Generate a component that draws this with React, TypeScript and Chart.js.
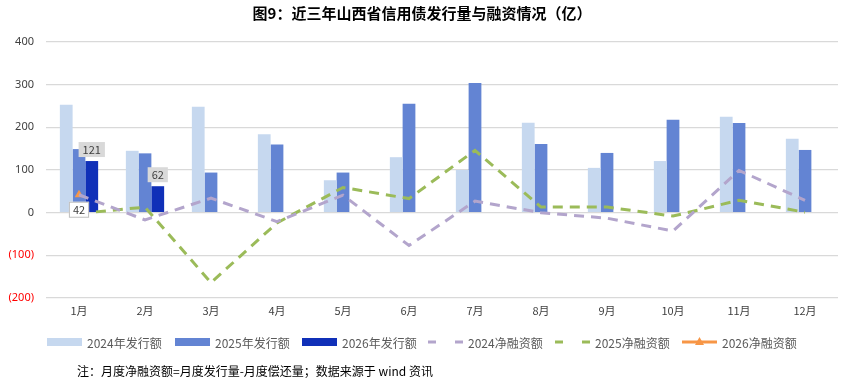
import React, { useEffect, useRef } from "react";
import { Chart, registerables } from "chart.js";

Chart.register(...registerables);

const months = ["1月", "2月", "3月", "4月", "5月", "6月", "7月", "8月", "9月", "10月", "11月", "12月"];
const issue2024 = [253, 145, 248, 184, 76, 130, 100, 211, 105, 121, 225, 173];
const issue2025 = [149, 139, 94, 160, 94, 255, 304, 161, 140, 218, 210, 147];
const issue2026: (number | null)[] = [121, 62, null, null, null, null, null, null, null, null, null, null];
const net2024 = [42, -17, 34, -21, 41, -77, 27, 0, -13, -43, 99, 29];
const net2025 = [-2, 13, -164, -24, 59, 33, 146, 13, 13, -8, 29, 1];
const net2026: (number | null)[] = [42, null, null, null, null, null, null, null, null, null, null, null];
const yTicks = [400, 300, 200, 100, 0, -100, -200];

const TITLE = "图9：近三年山西省信用债发行量与融资情况（亿）";
const NOTE = "注：月度净融资额=月度发行量-月度偿还量；数据来源于 wind 资讯";

const C24 = "#C6D8EF";
const C25 = "#6384D3";
const C26 = "#1030B8";
const CP = "#B3A5CC";
const CG = "#9BBB59";
const CO = "#F79646";
const CJK = '"Noto Sans CJK SC", "Noto Sans", sans-serif';

const legendItems = [
  { label: "2024年发行额", type: "bar", color: C24 },
  { label: "2025年发行额", type: "bar", color: C25 },
  { label: "2026年发行额", type: "bar", color: C26 },
  { label: "2024净融资额", type: "dash", color: CP },
  { label: "2025净融资额", type: "dash", color: CG },
  { label: "2026净融资额", type: "tri", color: CO },
];

const fmt = (v: number) => (v < 0 ? `(${Math.abs(v)})` : `${v}`);

export default function App() {
  const ref = useRef<HTMLCanvasElement>(null);
  useEffect(() => {
    const canvas = ref.current!;
    const extras = {
      id: "extras",
      afterDatasetsDraw(chart: any) {
        const ctx = chart.ctx;
        ctx.save();
        // bar labels for 2026
        const meta = chart.getDatasetMeta(2);
        ctx.font = `11px ${CJK}`;
        ctx.textAlign = "center";
        ctx.textBaseline = "middle";
        meta.data.forEach((el: any, i: number) => {
          const v = issue2026[i];
          if (v == null) return;
          const txt = String(v);
          const w = ctx.measureText(txt).width + 8;
          const h = 15;
          const x = el.x;
          const yb = el.y - 4;
          ctx.fillStyle = "#D9D9D9";
          ctx.fillRect(x - w / 2, yb - h, w, h);
          ctx.fillStyle = "#404040";
          ctx.fillText(txt, x, yb - h / 2 + 0.5);
        });
        // point label for 2026 net
        const m5 = chart.getDatasetMeta(5);
        m5.data.forEach((el: any, i: number) => {
          const v = net2026[i];
          if (v == null) return;
          const txt = String(v);
          const w = ctx.measureText(txt).width + 8;
          const h = 16;
          const x = el.x;
          const yt = el.y + 7;
          ctx.fillStyle = "#FFFFFF";
          ctx.fillRect(x - w / 2, yt, w, h);
          ctx.strokeStyle = "#BFBFBF";
          ctx.lineWidth = 1;
          ctx.strokeRect(x - w / 2 + 0.5, yt + 0.5, w - 1, h - 1);
          ctx.fillStyle = "#404040";
          ctx.fillText(txt, x, yt + h / 2 + 0.5);
        });
        ctx.restore();
      },
      afterDraw(chart: any) {
        const ctx = chart.ctx;
        ctx.save();
        // title
        ctx.fillStyle = "#000000";
        ctx.font = `bold 15px ${CJK}`;
        ctx.textAlign = "center";
        ctx.textBaseline = "middle";
        ctx.fillText(TITLE, 422, 13);
        // legend
        const starts = [47, 175, 302, 428, 555, 682];
        const ly = 342;
        ctx.textAlign = "left";
        ctx.font = `12px ${CJK}`;
        legendItems.forEach((it, i) => {
          const x0 = starts[i];
          if (it.type === "bar") {
            ctx.fillStyle = it.color;
            ctx.fillRect(x0, ly - 4, 35, 8);
          } else if (it.type === "dash") {
            ctx.strokeStyle = it.color;
            ctx.lineWidth = 3;
            ctx.beginPath();
            ctx.moveTo(x0, ly);
            ctx.lineTo(x0 + 8, ly);
            ctx.moveTo(x0 + 27, ly);
            ctx.lineTo(x0 + 35, ly);
            ctx.stroke();
          } else {
            ctx.strokeStyle = it.color;
            ctx.lineWidth = 3;
            ctx.beginPath();
            ctx.moveTo(x0, ly);
            ctx.lineTo(x0 + 35, ly);
            ctx.stroke();
            ctx.fillStyle = it.color;
            ctx.beginPath();
            ctx.moveTo(x0 + 17.5, ly - 5);
            ctx.lineTo(x0 + 22, ly + 3);
            ctx.lineTo(x0 + 13, ly + 3);
            ctx.closePath();
            ctx.fill();
          }
          ctx.fillStyle = "#595959";
          ctx.fillText(it.label, x0 + 40, ly + 1);
        });
        // footnote
        ctx.fillStyle = "#000000";
        ctx.font = `12px ${CJK}`;
        ctx.fillText(NOTE, 77, 371);
        ctx.restore();
      },
    };
    const chart = new Chart(canvas, {
      type: "bar",
      data: {
        labels: months,
        datasets: [
          { type: "bar", label: "2024年发行额", data: issue2024, backgroundColor: C24, order: 1, categoryPercentage: 0.58, barPercentage: 1 },
          { type: "bar", label: "2025年发行额", data: issue2025, backgroundColor: C25, order: 1, categoryPercentage: 0.58, barPercentage: 1 },
          { type: "bar", label: "2026年发行额", data: issue2026, backgroundColor: C26, order: 1, categoryPercentage: 0.58, barPercentage: 1 },
          { type: "line", label: "2024净融资额", data: net2024, borderColor: CP, borderWidth: 3, borderDash: [10, 7], pointRadius: 0, tension: 0, order: 0 },
          { type: "line", label: "2025净融资额", data: net2025, borderColor: CG, borderWidth: 3, borderDash: [10, 7], pointRadius: 0, tension: 0, order: 0 },
          { type: "line", label: "2026净融资额", data: net2026, borderColor: CO, backgroundColor: CO, borderWidth: 3, pointStyle: "triangle", pointRadius: 5, pointBackgroundColor: CO, pointBorderColor: CO, pointBorderWidth: 0, order: 0 },
        ] as any,
      },
      options: {
        responsive: false,
        animation: false,
        maintainAspectRatio: false,
        layout: { padding: { left: 0, right: 16, top: 42, bottom: 63 } },
        plugins: { legend: { display: false }, tooltip: { enabled: false }, title: { display: false } },
        scales: {
          x: {
            grid: { display: false, drawTicks: false },
            border: { display: false },
            ticks: { color: "#404040", font: { size: 11, family: CJK }, padding: 6, maxRotation: 0, autoSkip: false },
            afterFit: (s: any) => { s.height = 20; },
          },
          y: {
            min: -200,
            max: 400,
            afterBuildTicks: (s: any) => { s.ticks = yTicks.map((v) => ({ value: v })); },
            grid: { color: "#D9D9D9", lineWidth: 1.3, drawTicks: false },
            border: { display: false },
            ticks: {
              padding: 12,
              font: { size: 11, family: '"Noto Sans", sans-serif' },
              color: (c: any) => (c.tick && c.tick.value < 0 ? "#FF0000" : "#404040"),
              callback: (v: any) => fmt(Number(v)),
            },
            afterFit: (s: any) => { s.width = 46; },
          },
        },
      },
      plugins: [extras],
    });
    return () => chart.destroy();
  }, []);
  return (
    <div style={{ position: "fixed", left: 0, top: 0, width: 854, height: 381, background: "#fff" }}>
      <canvas ref={ref} width={854} height={381} style={{ display: "block" }} />
    </div>
  );
}
